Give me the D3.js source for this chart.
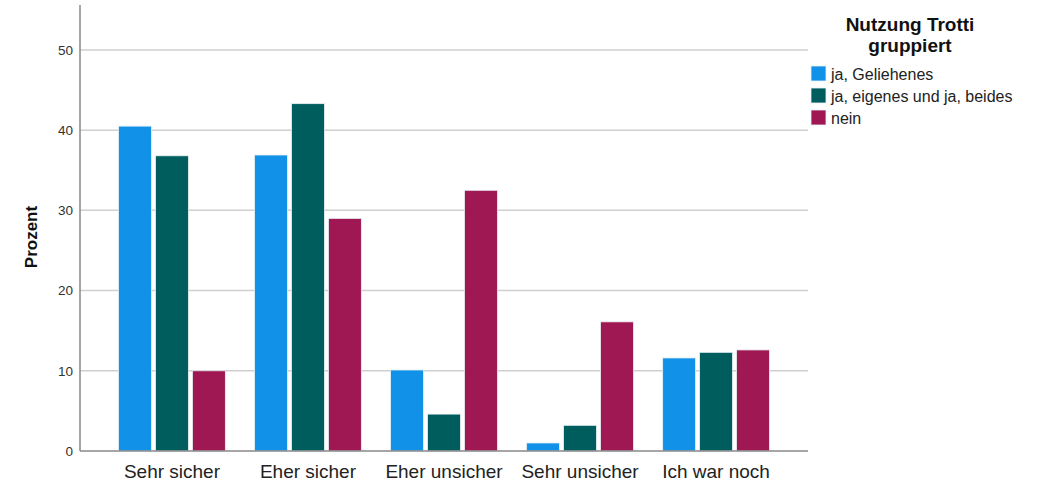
<!DOCTYPE html>
<html lang="de">
<head>
<meta charset="UTF-8">
<title>Nutzung Trotti gruppiert</title>
<script src="https://cdn.jsdelivr.net/npm/d3@7"></script>
<style>
  body {margin: 0; background: #fff;}
  svg {display: block; font-family: "Liberation Sans", Arial, sans-serif;}
</style>
</head>
<body>
<svg id="chart"></svg>
<script>
// data
const categories = ["Sehr sicher", "Eher sicher", "Eher unsicher", "Sehr unsicher", "Ich war noch|nie allein unterwegs"];
const seriesNames = ["ja, Geliehenes", "ja, eigenes und ja, beides", "nein"];
const seriesColors = ["#1192e8", "#005d5d", "#9f1853"];
const geliehen = [40.5, 36.9, 10.1, 1.0, 11.6];
const eigenes = [36.8, 43.3, 4.6, 3.2, 12.3];
const nein = [10.0, 29.0, 32.5, 16.1, 12.6];
const yTicks = [0, 10, 20, 30, 40, 50];

const values = [geliehen, eigenes, nein];
const rows = categories.map((c, i) => ({cat: c, vals: values.map(v => v[i])}));

const W = 1045, H = 484;
const svg = d3.select("#chart").attr("width", W).attr("height", H);

const plot = {left: 80, right: 808, top: 5, bottom: 451};

const y = d3.scaleLinear().domain([0, 55.6]).range([plot.bottom, plot.top]);
const x0 = d3.scaleBand().domain(categories).range([104, 784]).paddingInner(0.215).paddingOuter(0.107);
const x1 = d3.scaleBand().domain(d3.range(3)).range([0, x0.bandwidth()]).paddingInner(0.11);

// grid
svg.append("g").selectAll("line")
   .data(yTicks.filter(d => d > 0))
   .join("line")
     .attr("x1", plot.left).attr("x2", plot.right)
     .attr("y1", d => y(d)).attr("y2", d => y(d))
     .attr("stroke", "#cfcfcf").attr("stroke-width", 1.5);

// y tick labels
svg.append("g").selectAll("text")
   .data(yTicks)
   .join("text")
     .attr("x", 73).attr("y", d => y(d))
     .attr("dy", "0.35em")
     .attr("text-anchor", "end")
     .attr("font-size", 13.5).attr("fill", "#333")
     .text(d => d);

// bars
const groups = svg.append("g").selectAll("g")
   .data(rows)
   .join("g")
     .attr("transform", d => `translate(${x0(d.cat)},0)`);

groups.selectAll("rect")
   .data(d => d.vals)
   .join("rect")
     .attr("x", (d, i) => x1(i))
     .attr("width", x1.bandwidth())
     .attr("y", d => y(d))
     .attr("height", d => y(0) - y(d))
     .attr("fill", (d, i) => seriesColors[i])
     .attr("stroke", "#e8f0f4").attr("stroke-width", 0.8);

// axes lines
svg.append("line")
   .attr("x1", plot.left).attr("x2", plot.left)
   .attr("y1", plot.top).attr("y2", plot.bottom)
   .attr("stroke", "#888").attr("stroke-width", 1.5);
svg.append("line")
   .attr("x1", plot.left).attr("x2", plot.right)
   .attr("y1", plot.bottom).attr("y2", plot.bottom)
   .attr("stroke", "#888").attr("stroke-width", 1.5);

// category labels (second line is clipped by the bottom edge, as in the original)
const catLabels = svg.append("g").selectAll("text")
   .data(categories)
   .join("text")
     .attr("x", d => x0(d) + x0.bandwidth() / 2)
     .attr("y", 478)
     .attr("text-anchor", "middle")
     .attr("font-size", 19).attr("fill", "#222");
catLabels.selectAll("tspan")
   .data(d => d.split("|"))
   .join("tspan")
     .attr("x", function() { return this.parentNode.getAttribute("x"); })
     .attr("dy", (d, i) => i === 0 ? 0 : 20)
     .text(d => d);

// y title
svg.append("text")
   .attr("transform", "translate(37,237) rotate(-90)")
   .attr("text-anchor", "middle")
   .attr("font-size", 17).attr("font-weight", "bold").attr("fill", "#111")
   .text("Prozent");

// legend
const legend = svg.append("g");
legend.append("text")
   .attr("x", 910).attr("y", 0)
   .attr("text-anchor", "middle")
   .attr("font-size", 19).attr("font-weight", "bold").attr("fill", "#111")
   .selectAll("tspan")
   .data(["Nutzung Trotti", "gruppiert"])
   .join("tspan")
     .attr("x", 910)
     .attr("y", (d, i) => 31 + i * 21)
     .text(d => d);

const items = legend.selectAll("g.item")
   .data(seriesNames)
   .join("g").attr("class", "item")
     .attr("transform", (d, i) => `translate(811,${66 + i * 22})`);
items.append("rect")
   .attr("width", 15).attr("height", 15)
   .attr("fill", (d, i) => seriesColors[i])
   .attr("stroke", "#e8f0f4").attr("stroke-width", 0.8);
items.append("text")
   .attr("x", 20).attr("y", 8)
   .attr("dy", "0.35em")
   .attr("font-size", 16).attr("fill", "#222")
   .text(d => d);
</script>
</body>
</html>
